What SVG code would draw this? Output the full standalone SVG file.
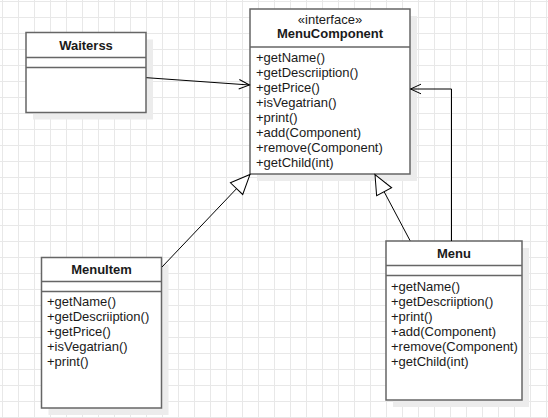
<svg xmlns="http://www.w3.org/2000/svg" width="548" height="418" viewBox="0 0 548 418">
<defs>
<pattern id="grid" x="2" y="1" width="16" height="16" patternUnits="userSpaceOnUse">
<path d="M0.5 0 V16 M0 0.5 H16" fill="none" stroke="#e8e8e8" stroke-width="1"/>
</pattern>
<marker id="open" viewBox="-12 -7 14 14" refX="0" refY="0" markerWidth="14" markerHeight="14" markerUnits="userSpaceOnUse" orient="auto">
<path d="M-10.5,-4.8 L0,0 L-10.5,4.8" fill="none" stroke="#000" stroke-width="1"/>
</marker>
<marker id="tri" viewBox="-22 -10 24 20" refX="0" refY="0" markerWidth="24" markerHeight="20" markerUnits="userSpaceOnUse" orient="auto">
<path d="M-19.5,-8.5 L0,0 L-19.5,8.5 Z" fill="#fff" stroke="#000" stroke-width="1"/>
</marker>
</defs>
<style>
.box{fill:#fff;stroke:#666;stroke-width:1.5}
.shadow{fill:#ececec}
.div{stroke:#666;stroke-width:1.5}
.title{font-family:"Liberation Sans",Arial,sans-serif;font-size:13px;font-weight:bold;fill:#1a1a1a;text-anchor:middle}
.stereo{font-family:"Liberation Sans",Arial,sans-serif;font-size:13px;fill:#1a1a1a;text-anchor:middle}
.m{font-family:"Liberation Sans",Arial,sans-serif;font-size:13px;fill:#1a1a1a}
.conn{fill:none;stroke:#000;stroke-width:1}
</style>
<rect width="548" height="418" fill="#fff"/>
<rect width="548" height="418" fill="url(#grid)"/>

<g id="Waiterss">
<rect class="shadow" x="33" y="39.5" width="120" height="80"/>
<rect class="box" x="26" y="32.5" width="120" height="80"/>
<line class="div" x1="26" y1="57.5" x2="146" y2="57.5"/>
<line class="div" x1="26" y1="67.5" x2="146" y2="67.5"/>
<text class="title" x="86" y="49.5">Waiterss</text>
</g>

<g id="MenuComponent">
<rect class="shadow" x="257" y="16" width="160" height="165"/>
<rect class="box" x="250" y="9" width="160" height="165"/>
<line class="div" x1="250" y1="47" x2="410" y2="47"/>
<text class="stereo" x="330" y="24">«interface»</text>
<text class="title" x="330" y="38">MenuComponent</text>
<text class="m" x="256" y="61.5">+getName()</text>
<text class="m" x="256" y="76.5">+getDescriiption()</text>
<text class="m" x="256" y="91.5">+getPrice()</text>
<text class="m" x="256" y="106.5">+isVegatrian()</text>
<text class="m" x="256" y="121.5">+print()</text>
<text class="m" x="256" y="136.5">+add(Component)</text>
<text class="m" x="256" y="151.5">+remove(Component)</text>
<text class="m" x="256" y="166.5">+getChild(int)</text>
</g>

<g id="MenuItem">
<rect class="shadow" x="48.5" y="264.5" width="120" height="150.5"/>
<rect class="box" x="41.5" y="257.5" width="120" height="150.5"/>
<line class="div" x1="41.5" y1="281.5" x2="161.5" y2="281.5"/>
<line class="div" x1="41.5" y1="291.5" x2="161.5" y2="291.5"/>
<text class="title" x="101.5" y="274">MenuItem</text>
<text class="m" x="47" y="306">+getName()</text>
<text class="m" x="47" y="321">+getDescriiption()</text>
<text class="m" x="47" y="336">+getPrice()</text>
<text class="m" x="47" y="351">+isVegatrian()</text>
<text class="m" x="47" y="366">+print()</text>
</g>

<g id="Menu">
<rect class="shadow" x="393" y="248" width="136" height="159"/>
<rect class="box" x="386" y="241" width="136" height="159"/>
<line class="div" x1="386" y1="265.5" x2="522" y2="265.5"/>
<line class="div" x1="386" y1="275.5" x2="522" y2="275.5"/>
<text class="title" x="454" y="257.5">Menu</text>
<text class="m" x="391" y="290.5">+getName()</text>
<text class="m" x="391" y="305.5">+getDescriiption()</text>
<text class="m" x="391" y="320.5">+print()</text>
<text class="m" x="391" y="335.5">+add(Component)</text>
<text class="m" x="391" y="350.5">+remove(Component)</text>
<text class="m" x="391" y="365.5">+getChild(int)</text>
</g>

<g id="connectors">
<path class="conn" d="M146.5,77.7 L249.5,85" marker-end="url(#open)"/>
<path class="conn" d="M162,267 L250,174.5" marker-end="url(#tri)"/>
<path class="conn" d="M410,240.5 L375,174.5" marker-end="url(#tri)"/>
<path class="conn" d="M451.5,241 L451.5,89 L410.5,89" marker-end="url(#open)"/>
</g>
</svg>
